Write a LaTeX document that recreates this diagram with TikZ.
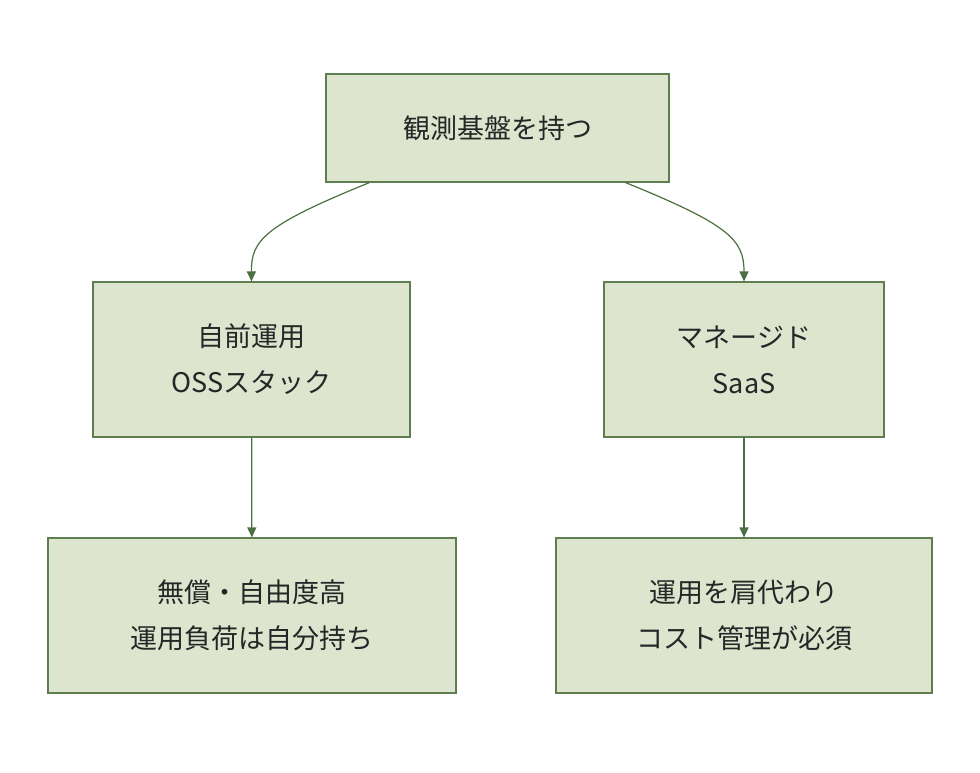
\documentclass[tikz,border=0pt]{standalone}
\usepackage{fontspec}
\setmainfont{Noto Sans CJK JP}
\usetikzlibrary{arrows.meta}
\definecolor{boxfill}{HTML}{DDE5CF}
\definecolor{boxline}{HTML}{5E7D50}
\definecolor{arr}{HTML}{4C6E40}
\begin{document}
\begin{tikzpicture}[x=1pt,y=-1pt,
  box/.style={draw=boxline,fill=boxfill,line width=1.2pt,inner sep=0pt,align=center,
    font=\fontsize{27}{46}\selectfont,text=black!85},
  conn/.style={draw=arr,line width=1.2pt,-{Triangle[length=10pt,width=9pt]}}]
\useasboundingbox (0,0) rectangle (980,772);
\node[box,minimum width=343pt,minimum height=108pt] (top) at (497.5,128) {観測基盤を持つ};
\node[box,minimum width=317pt,minimum height=155pt] (l) at (251.5,359.5) {自前運用\\OSSスタック};
\node[box,minimum width=280pt,minimum height=155pt] (r) at (744,359.5) {マネージド\\SaaS};
\node[box,minimum width=408pt,minimum height=155pt] (lb) at (252,615.5) {無償・自由度高\\運用負荷は自分持ち};
\node[box,minimum width=376pt,minimum height=155pt] (rb) at (744,615.5) {運用を肩代わり\\コスト管理が必須};
\draw[conn] ([xshift=44pt]top.south west) .. controls (265,225) and (251,240) .. (l.north);
\draw[conn] ([xshift=-44pt]top.south east) .. controls (730,225) and (744,240) .. (r.north);
\draw[conn] (l) -- (lb);
\draw[conn] (r) -- (rb);
\end{tikzpicture}
\end{document}
